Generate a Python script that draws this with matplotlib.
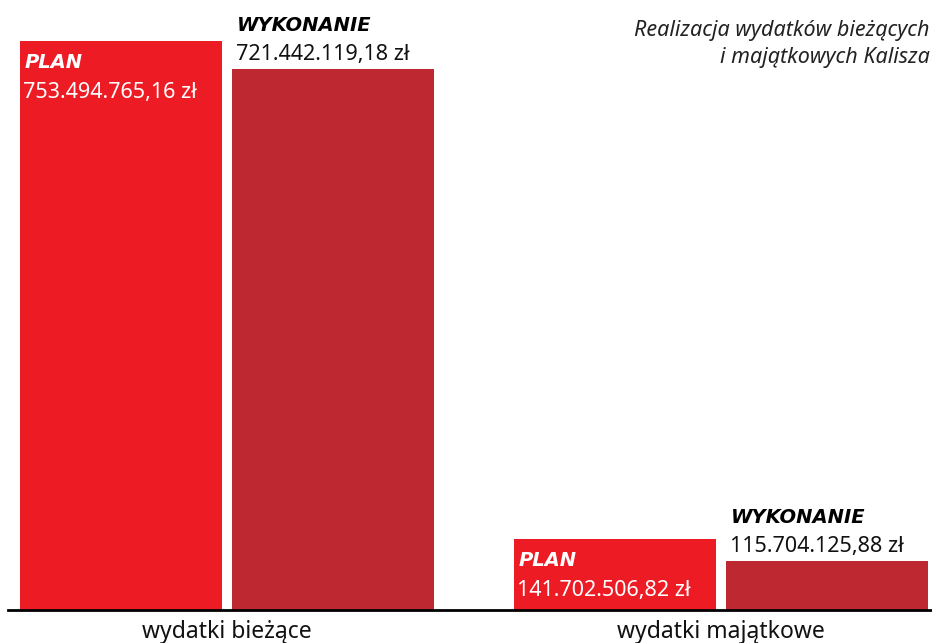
import matplotlib.pyplot as plt
import numpy as np

plt.rcParams['font.family'] = ['Noto Sans', 'DejaVu Sans']

categories = ["wydatki bieżące", "wydatki majątkowe"]
series_names = ["PLAN", "WYKONANIE"]
# bar heights as drawn in the picture (mln zł)
plan_values = [753.49, 94.0]
wyk_values = [716.4, 65.0]
plan_labels = ["753.494.765,16 zł", "141.702.506,82 zł"]
wyk_labels = ["721.442.119,18 zł", "115.704.125,88 zł"]
title = "Realizacja wydatków bieżących\ni majątkowych Kalisza"

plan_color = "#ED1C24"
wyk_color = "#BE2830"

fig = plt.figure(figsize=(9.32, 6.43), dpi=100)
ax = fig.add_axes([8 / 932, 33 / 643, 924 / 932, 610 / 643])

x = np.arange(len(categories))
width = 0.409
off = 0.2146
ax.bar(x - off, plan_values, width, color=plan_color)
ax.bar(x + off, wyk_values, width, color=wyk_color)

ax.set_xlim(-0.4433, 1.427)
ax.set_ylim(0, 753.49 * 610 / 569)

px = 0.72  # points per pixel
fs = 15.5
bold = dict(family=['DejaVu Sans'], fontsize=14, fontweight="bold",
            fontstyle="italic")
for i in range(len(categories)):
    left = x[i] - off - width / 2
    ax.annotate(series_names[0], (left, plan_values[i]), xytext=(5 * px, -27 * px),
                textcoords="offset points", color="white",
                va="baseline", ha="left", **bold)
    ax.annotate(plan_labels[i], (left, plan_values[i]), xytext=(3 * px, -57 * px),
                textcoords="offset points", color="white", fontsize=fs,
                va="baseline", ha="left")
    left2 = x[i] + off - width / 2
    ax.annotate(series_names[1], (left2, wyk_values[i]), xytext=(5 * px, 38 * px),
                textcoords="offset points", color="black",
                va="baseline", ha="left", **bold)
    ax.annotate(wyk_labels[i], (left2, wyk_values[i]), xytext=(4 * px, 9 * px),
                textcoords="offset points", color="#111111", fontsize=fs,
                va="baseline", ha="left")

ax.set_xticks(x)
ax.set_xticklabels(categories, fontsize=16.5, color="#111111")
ax.tick_params(axis="x", length=0, pad=7)
ax.set_yticks([])
for s in ["top", "right", "left"]:
    ax.spines[s].set_visible(False)
ax.spines["bottom"].set_linewidth(2)
ax.spines["bottom"].set_color("black")

fig.text(930 / 932, 1 - 20 / 643, title, ha="right", va="top", fontsize=15.5,
         fontstyle="italic", color="#222222", linespacing=1.35)

fig.savefig("out.png", dpi=100)
